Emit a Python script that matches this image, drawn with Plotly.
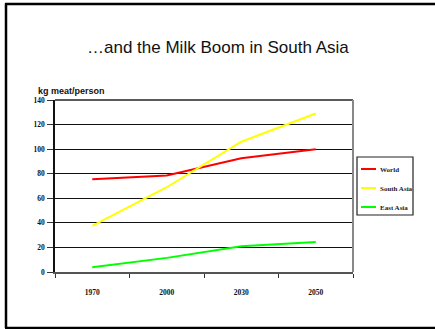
import plotly.graph_objects as go

# Projected meat/milk consumption, kg per person
years = ["1970", "2000", "2030", "2050"]
world = [75.5, 78.5, 92.5, 100]
south_asia = [37.5, 69, 106, 129]
east_asia = [3.8, 11.5, 21, 24.5]

series_names = ["World", "South Asia", "East Asia"]
series_values = [world, south_asia, east_asia]
series_colors = ["#ff0000", "#ffff00", "#00ff00"]

y_ticks = [0, 20, 40, 60, 80, 100, 120, 140]

W, H = 435, 329
L, R, T, B = 55, 353, 100, 272  # plot area in pixels


def px(x):
    return (x - L) / (R - L)


def py(y):
    return (B - y) / (B - T)


fig = go.Figure()
for name, vals, col in zip(series_names, series_values, series_colors):
    fig.add_trace(go.Scatter(x=years, y=vals, mode="lines", name=name,
                             line=dict(color=col, width=2), showlegend=False))

tick_font = dict(family="Liberation Serif", size=7.5, color="#111", weight="bold")

shapes = []
annotations = []

# slide frame (left, top, bottom edges)
frame = dict(type="line", xref="paper", yref="paper", line=dict(color="black", width=2.5))
shapes.append({**frame, "x0": px(6), "x1": px(6), "y0": py(3.5), "y1": py(328)})
shapes.append({**frame, "x0": px(5), "x1": px(435), "y0": py(4), "y1": py(4)})
shapes.append({**frame, "x0": px(5), "x1": px(435), "y0": py(328), "y1": py(328)})

# plot area top and right borders
shapes.append(dict(type="line", xref="paper", yref="paper", x0=0, x1=1, y0=1, y1=1,
                   line=dict(color="#222", width=1.5)))
shapes.append(dict(type="line", xref="paper", yref="paper", x0=1, x1=1, y0=0, y1=1,
                   line=dict(color="#888", width=2)))

# legend box
lx0, lx1, ly0, ly1 = 357, 413, 157, 215
shapes.append(dict(type="rect", xref="paper", yref="paper",
                   x0=px(lx0), x1=px(lx1), y0=py(ly0), y1=py(ly1),
                   line=dict(color="#222", width=1.2), fillcolor="white"))
for i, (name, col) in enumerate(zip(series_names, series_colors)):
    yy = 169 + i * 19
    shapes.append(dict(type="line", xref="paper", yref="paper",
                       x0=px(361), x1=px(376), y0=py(yy), y1=py(yy),
                       line=dict(color=col, width=2)))
    annotations.append(dict(xref="paper", yref="paper", x=px(378), y=py(yy + 0.5),
                            xanchor="left", yanchor="middle", showarrow=False,
                            text=f"<b>{name}</b>",
                            font=dict(family="Liberation Serif", size=7, color="#222")))

# title and axis caption
annotations.append(dict(xref="paper", yref="paper", x=px(218), y=py(48),
                        xanchor="center", yanchor="middle", showarrow=False,
                        text="\u2026and the Milk Boom in South Asia",
                        font=dict(family="Liberation Sans", size=17, color="#111")))
annotations.append(dict(xref="paper", yref="paper", x=px(36), y=py(91),
                        xanchor="left", yanchor="middle", showarrow=False,
                        text="<b>kg meat/person</b>",
                        font=dict(family="Liberation Sans", size=9, color="#111")))

fig.update_layout(
    width=W, height=H,
    margin=dict(l=L, r=W - R, t=T, b=H - B),
    paper_bgcolor="white", plot_bgcolor="white",
    showlegend=False,
    shapes=shapes, annotations=annotations,
    xaxis=dict(type="category", range=[-0.5, 3.5], tickson="boundaries",
               ticks="outside", ticklen=4, tickcolor="#333", tickwidth=1,
               showgrid=False, showline=True, linecolor="#555", linewidth=2,
               tickfont=tick_font, ticklabelstandoff=12, fixedrange=True),
    yaxis=dict(range=[0, 140], tickvals=y_ticks, ticks="outside", ticklen=6,
               tickcolor="#333", tickwidth=1, showgrid=True, gridcolor="#111",
               gridwidth=1, zeroline=False, showline=True, linecolor="#111",
               linewidth=1.5, tickfont=tick_font, ticklabelstandoff=1,
               fixedrange=True),
)

fig.write_html("out.html")
